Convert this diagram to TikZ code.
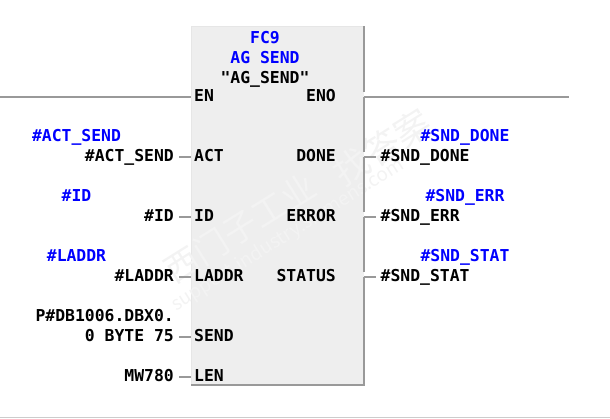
\documentclass[tikz,border=0pt]{standalone}
\usepackage{fontspec}
\newfontfamily\plcfont{DejaVu Sans Mono}
\newfontfamily\wmfont{Noto Sans CJK SC}
\definecolor{wire}{HTML}{999999}
\definecolor{fbfill}{HTML}{EEEEEE}
\definecolor{fbedge}{HTML}{E6E6E6}
\definecolor{markc}{HTML}{F3F3F3}
\tikzset{
  plc/.style={font=\plcfont\bfseries\fontsize{16.4}{18}\selectfont, text height=8pt, text depth=0pt, inner ysep=0pt},
  pinl/.style={plc, anchor=base west, inner xsep=3pt},
  pinr/.style={plc, anchor=base east, inner xsep=0pt},
  argl/.style={plc, anchor=base east, inner xsep=5pt},
  argr/.style={plc, anchor=base west, inner xsep=5pt},
  sym/.style={plc, anchor=base, text=blue, inner xsep=0pt},
  title/.style={plc, anchor=base, inner xsep=0pt},
  wiring/.style={draw=wire, line width=1.5pt},
  wmark/.style={text=markc, rotate=32, inner sep=0pt}
}
\begin{document}
\begin{tikzpicture}[x=1pt, y=-1pt]
  \useasboundingbox (0, 0) rectangle (610, 418);
  % block
  \node[fill=fbfill, minimum width=173pt, minimum height=359pt, inner sep=0pt, outer sep=0pt] (fb) at (277.5, 205.5) {};
  \draw[fbedge, line width=1pt] (fb.south west) -- (fb.north west) -- (fb.north east);
  % watermark
  \node[wmark, font=\wmfont\fontsize{34}{36}\selectfont] (wm1) at (240, 228) {西门子工业};
  \node[wmark, font=\wmfont\fontsize{19}{21}\selectfont] (wm2) at (288, 235) {support.industry.siemens.com};
  \node[wmark, font=\wmfont\fontsize{36}{38}\selectfont] (wm3) at (382, 147) {找答案};
  % titles
  \node[title, text=blue] (fc) at (265, 43) {FC9};
  \node[title, text=blue] (fcname) at (265, 63) {AG SEND};
  \node[title] (fcsym) at (265, 83) {"AG\_SEND"};
  % pins
  \node[pinl] (en) at (191, 101) {EN};
  \node[pinr] (eno) at (336, 101) {ENO};
  \node[pinl] (act) at (191, 161) {ACT};
  \node[pinl] (id) at (191, 221) {ID};
  \node[pinl] (laddr) at (191, 281) {LADDR};
  \node[pinl] (send) at (191, 341) {SEND};
  \node[pinl] (len) at (191, 381) {LEN};
  \node[pinr] (done) at (336, 161) {DONE};
  \node[pinr] (error) at (336, 221) {ERROR};
  \node[pinr] (status) at (336, 281) {STATUS};
  % inputs
  \node[sym] (symact) at (76.5, 141) {\#ACT\_SEND};
  \node[argl] (argact) at (179, 161) {\#ACT\_SEND};
  \node[sym] (symid) at (76.5, 201) {\#ID};
  \node[argl] (argid) at (179, 221) {\#ID};
  \node[sym] (symladdr) at (76.5, 261) {\#LADDR};
  \node[argl] (argladdr) at (179, 281) {\#LADDR};
  \node[argl] (argptr) at (179, 321) {P\#DB1006.DBX0.};
  \node[argl] (argsend) at (179, 341) {0 BYTE 75};
  \node[argl] (arglen) at (179, 381) {MW780};
  % outputs
  \node[sym] (symdone) at (465, 141) {\#SND\_DONE};
  \node[argr] (argdone) at (375.5, 161) {\#SND\_DONE};
  \node[sym] (symerr) at (465, 201) {\#SND\_ERR};
  \node[argr] (argerr) at (375.5, 221) {\#SND\_ERR};
  \node[sym] (symstat) at (465, 261) {\#SND\_STAT};
  \node[argr] (argstat) at (375.5, 281) {\#SND\_STAT};
  % rungs and stubs
  \coordinate (railin) at (0, 97);
  \coordinate (railout) at (569, 97);
  \draw[wiring] (railin) -- (fb.west |- railin);
  \draw[wiring] (fb.east |- railout) -- (railout);
  \draw[wiring] (argact.east) -- (fb.west |- argact.east);
  \draw[wiring] (argid.east) -- (fb.west |- argid.east);
  \draw[wiring] (argladdr.east) -- (fb.west |- argladdr.east);
  \draw[wiring] (argsend.east) -- (fb.west |- argsend.east);
  \draw[wiring] (arglen.east) -- (fb.west |- arglen.east);
  \draw[wiring] (argdone.west) -- (fb.east |- argdone.west);
  \draw[wiring] (argerr.west) -- (fb.east |- argerr.west);
  \draw[wiring] (argstat.west) -- (fb.east |- argstat.west);
  % right and bottom edge of the block
  \draw[wiring] (fb.north east) -- (fb.east |- 0, 92);
  \draw[wiring] (fb.east |- railout) -- (fb.east |- 0, 152);
  \draw[wiring] (fb.east |- argdone.west) -- (fb.east |- 0, 212);
  \draw[wiring] (fb.east |- argerr.west) -- (fb.east |- 0, 272);
  \draw[wiring] (fb.east |- argstat.west) -- (fb.south east) -- (fb.south west);
  % page line
  \coordinate (pagel) at (0, 417.5);
  \coordinate (pager) at (610, 417.5);
  \draw[draw=black!20, line width=1pt] (pagel) -- (pager);
\end{tikzpicture}
\end{document}
